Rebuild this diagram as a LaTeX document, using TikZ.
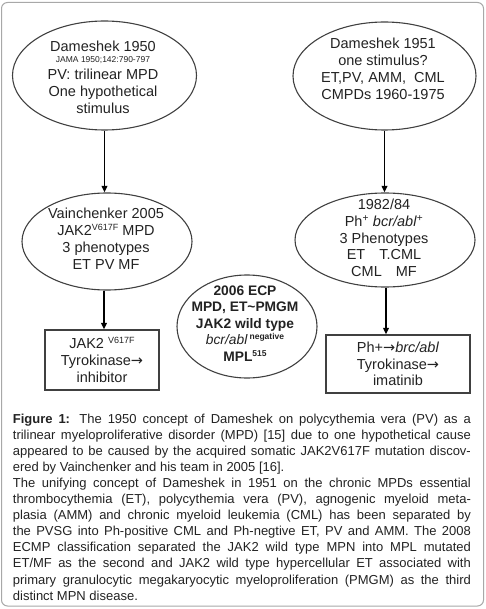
\documentclass[tikz,border=0pt]{standalone}
\usepackage{fontspec}
\setmainfont{Liberation Sans}
\newfontfamily\arrfont{DejaVu Sans}
\usetikzlibrary{shapes.geometric,arrows.meta}
\definecolor{framec}{HTML}{A8A8A8}
\definecolor{ellc}{HTML}{404040}
\definecolor{txt}{HTML}{222222}
\newcommand{\rarr}{{\arrfont\char"2192}}
\newcommand{\capline}[1]{\makebox[458pt][s]{#1}}
\begin{document}
\begin{tikzpicture}[x=1pt,y=-1pt,
  ell/.style={draw=ellc, line width=1.1pt, ellipse, inner sep=0pt},
  bx/.style={draw=ellc, line width=1.1pt, rectangle, inner sep=0pt, align=center, text=txt,
    font=\fontsize{14.5}{16.6}\selectfont},
  lbl/.style={align=center, text=txt, font=\fontsize{14.5}{16.8}\selectfont, inner sep=0pt},
  lblb/.style={align=center, text=txt, font=\bfseries\fontsize{13.8}{16.6}\selectfont, inner sep=0pt},
  arw/.style={line width=1.7pt, -{Triangle[length=6.5pt,width=5.5pt]}},
  captxt/.style={anchor=base west, inner sep=0pt, font=\fontsize{13}{16}\selectfont, text=txt}]
\useasboundingbox (0,0) rectangle (486,609);
\draw[framec, line width=1pt, rounded corners=6pt] (1.5,2.5) rectangle (483.5,606);

% ellipses
\node[ell, minimum width=184pt, minimum height=109pt] (e1) at (104.5,75.5) {};
\node[ell, minimum width=170pt, minimum height=97pt] (e2) at (107,241.5) {};
\node[ell, minimum width=183pt, minimum height=108pt] (e3) at (384.5,76) {};
\node[ell, minimum width=180pt, minimum height=94pt] (e4) at (385,240) {};
\node[ell, minimum width=140pt, minimum height=103pt] (e5) at (247,326.5) {};

% texts
\node[lbl] (t1) at (103,77.3) {Dameshek 1950\\[-6pt]{\fontsize{8.5}{10}\selectfont JAMA 1950;142:790-797}\\PV: trilinear MPD\\One hypothetical\\stimulus};
\node[lbl] (t2) at (106,238.7) {Vainchenker 2005\\JAK2{\fontsize{9}{10}\selectfont\raisebox{5pt}{V617F}} MPD\\3 phenotypes\\ET PV MF};
\node[lbl] (t3) at (383,69) {Dameshek 1951\\one stimulus?\\ET,PV, AMM,\ \ CML\\CMPDs 1960-1975};
\node[lbl] (t4) at (384,238) {1982/84\\Ph\textsuperscript{+} \textit{bcr/abl}\textsuperscript{+}\\3 Phenotypes\\ET\hspace{14pt}T.CML\\CML\hspace{14pt}MF};
\node[lblb] (t5) at (245,323.5) {2006 ECP\\MPD, ET\textasciitilde PMGM\\JAK2 wild type\\{\mdseries\itshape bcr/abl}\,{\fontsize{8.5}{10}\selectfont\raisebox{5pt}{negative}}\\MPL{\fontsize{8.5}{10}\selectfont\raisebox{5pt}{515}}};

% boxes
\node[bx, minimum width=114pt, minimum height=60pt] (b1) at (102,360) {JAK2 {\fontsize{9}{10}\selectfont\raisebox{5pt}{V617F}}\\Tyrokinase\rarr\\inhibitor};
\node[bx, minimum width=144pt, minimum height=58pt] (b2) at (398,364) {Ph+\rarr\textit{brc/abl}\\Tyrokinase\rarr\\imatinib};

% connectors
\draw[arw] (e1.south) -- (e1.south |- e2.north);
\draw[arw] ([xshift=-3pt]e2.south) -- ([xshift=-3pt]e2.south |- b1.north);
\draw[arw] (e3.south) -- (e3.south |- e4.north);
\draw[arw] ([xshift=1pt]e4.south) -- ([xshift=1pt]e4.south |- b2.north);

% caption
\node[captxt] (c1) at (12.7,423) {\capline{\textbf{Figure 1:} The 1950 concept of Dameshek on polycythemia vera (PV) as a}};
\node[captxt] (c2) at (12.7,439.1) {\capline{trilinear myeloproliferative disorder (MPD) [15] due to one hypothetical cause}};
\node[captxt] (c3) at (12.7,455.2) {\capline{appeared to be caused by the acquired somatic JAK2V617F mutation discov-}};
\node[captxt] (c4) at (12.7,471.3) {ered by Vainchenker and his team in 2005 [16].};
\node[captxt] (c5) at (12.7,487.4) {\capline{The unifying concept of Dameshek in 1951 on the chronic MPDs essential}};
\node[captxt] (c6) at (12.7,503.5) {\capline{thrombocythemia (ET), polycythemia vera (PV), agnogenic myeloid meta-}};
\node[captxt] (c7) at (12.7,519.6) {\capline{plasia (AMM) and chronic myeloid leukemia (CML) has been separated by}};
\node[captxt] (c8) at (12.7,535.7) {\capline{the PVSG into Ph-positive CML and Ph-negtive ET, PV and AMM. The 2008}};
\node[captxt] (c9) at (12.7,551.8) {\capline{ECMP classification separated the JAK2 wild type MPN into MPL mutated}};
\node[captxt] (c10) at (12.7,567.9) {\capline{ET/MF as the second and JAK2 wild type hypercellular ET associated with}};
\node[captxt] (c11) at (12.7,584) {\capline{primary granulocytic megakaryocytic myeloproliferation (PMGM) as the third}};
\node[captxt] (c12) at (12.7,600.1) {distinct MPN disease.};
\end{tikzpicture}
\end{document}
